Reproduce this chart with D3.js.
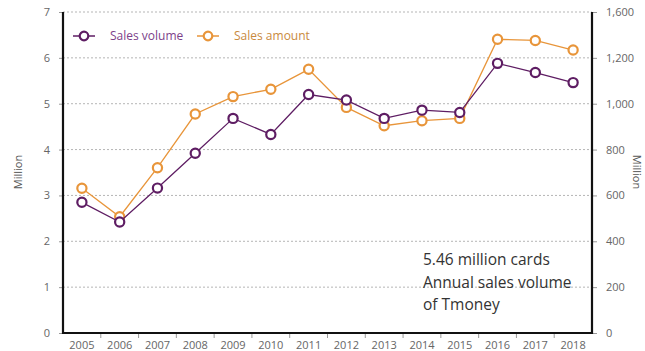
<!DOCTYPE html>
<html>
  <head>
    <meta charset="utf-8" />
    <script src="https://d3js.org/d3.v7.min.js"></script>
    <style>
      body { margin: 0; background: #fff; }
      svg { display: block; }
    </style>
  </head>
  <body>
    <svg></svg>
    <script>
      // data
      var years = ["2005","2006","2007","2008","2009","2010","2011","2012","2013","2014","2015","2016","2017","2018"];
      var salesVolume = [2.85, 2.42, 3.16, 3.92, 4.68, 4.33, 5.2, 5.08, 4.68, 4.86, 4.81, 5.88, 5.68, 5.46];
      var salesAmount = [631, 507, 721, 955, 1031, 1063, 1150, 984, 904, 926, 936, 1281, 1276, 1234];
      var leftTicks = [0, 1, 2, 3, 4, 5, 6, 7];
      var rightTicks = [0, 200, 400, 600, 800, 1000, 1200, 1400];
      var rightTickLabels = ["0", "200", "400", "600", "800", "1,000", "1,200", "1,600"];
      var note = ["5.46 million cards", "Annual sales volume", "of Tmoney"];

      var purple = "#5e1d63";
      var orange = "#e8953a";
      var font = "'Open Sans', sans-serif";

      var svg = d3.select("svg").attr("width", 645).attr("height", 351);

      var plotLeft = 63, plotRight = 592, plotTop = 12, plotBottom = 333;

      var x = d3.scaleBand().domain(years).range([plotLeft, plotRight]);
      var y = d3.scaleLinear().domain([0, 7]).range([plotBottom, plotTop]);
      var y2 = d3.scaleLinear().domain([0, 1400]).range([plotBottom, plotTop]);

      // gridlines
      svg.append("g")
        .selectAll("line")
        .data(leftTicks.slice(1))
        .enter()
        .append("line")
        .attr("x1", plotLeft)
        .attr("x2", plotRight)
        .attr("y1", function (d) { return y(d); })
        .attr("y2", function (d) { return y(d); })
        .attr("stroke", "#b5b5b5")
        .attr("stroke-width", 1)
        .attr("stroke-dasharray", "2,2");

      // left axis
      var gl = svg.append("g")
        .attr("transform", "translate(" + plotLeft + ",0)")
        .call(d3.axisLeft(y).tickValues(leftTicks).tickFormat(d3.format("d")).tickSize(4).tickPadding(9));
      gl.select(".domain").remove();
      gl.selectAll("line").attr("stroke", "#999");
      gl.selectAll("text").attr("fill", "#666").attr("font-size", 11).attr("font-family", font);

      // right axis
      var gr = svg.append("g")
        .attr("transform", "translate(" + plotRight + ",0)")
        .call(d3.axisRight(y2).tickValues(rightTicks).tickSize(5).tickPadding(9)
          .tickFormat(function (d, i) { return rightTickLabels[i]; }));
      gr.select(".domain").remove();
      gr.selectAll("line").attr("stroke", "#999");
      gr.selectAll("text").attr("fill", "#666").attr("font-size", 11).attr("font-family", font);

      // bottom axis
      var gb = svg.append("g")
        .attr("transform", "translate(0," + plotBottom + ")")
        .call(d3.axisBottom(x).tickSize(0).tickPadding(8));
      gb.select(".domain").remove();
      gb.selectAll("text").attr("fill", "#666").attr("font-size", 11).attr("font-family", font);
      gb.selectAll(".sep")
        .data(years.slice(1))
        .enter()
        .append("line")
        .attr("class", "sep")
        .attr("x1", function (d) { return x(d); })
        .attr("x2", function (d) { return x(d); })
        .attr("y1", 1)
        .attr("y2", 5)
        .attr("stroke", "#999");

      // frame lines
      svg.append("path")
        .attr("d", "M" + plotLeft + "," + plotTop + "V" + plotBottom + "H" + plotRight + "V" + plotTop)
        .attr("fill", "none")
        .attr("stroke", "#111")
        .attr("stroke-width", 2.2);

      // axis titles
      svg.append("text")
        .attr("transform", "translate(22,172) rotate(-90)")
        .attr("text-anchor", "middle")
        .attr("font-size", 11)
        .attr("font-family", font)
        .attr("fill", "#555")
        .text("Million");
      svg.append("text")
        .attr("transform", "translate(633,172) rotate(90)")
        .attr("text-anchor", "middle")
        .attr("font-size", 11)
        .attr("font-family", font)
        .attr("fill", "#555")
        .text("Million");

      function cx(d, i) { return x(years[i]) + x.bandwidth() / 2; }

      function drawSeries(values, scale, color) {
        var line = d3.line()
          .x(function (d, i) { return cx(d, i); })
          .y(function (d) { return scale(d); });
        svg.append("path")
          .datum(values)
          .attr("d", line)
          .attr("fill", "none")
          .attr("stroke", color)
          .attr("stroke-width", 1.3);
        svg.append("g")
          .selectAll("circle")
          .data(values)
          .enter()
          .append("circle")
          .attr("cx", cx)
          .attr("cy", function (d) { return scale(d); })
          .attr("r", 4.6)
          .attr("fill", "#fff")
          .attr("stroke", color)
          .attr("stroke-width", 2.2);
      }

      drawSeries(salesAmount, y2, orange);
      drawSeries(salesVolume, y, purple);

      // legend
      var legend = [
        { label: "Sales volume", color: purple, text: "#7d3f8a", x: 73 },
        { label: "Sales amount", color: orange, text: "#c98a3e", x: 197 }
      ];
      var lg = svg.append("g").selectAll("g").data(legend).enter().append("g")
        .attr("transform", function (d) { return "translate(" + d.x + ",36)"; });
      lg.append("line").attr("x1", 0).attr("x2", 22).attr("stroke", function (d) { return d.color; }).attr("stroke-width", 1.5);
      lg.append("circle").attr("cx", 11).attr("r", 4.3).attr("fill", "#fff")
        .attr("stroke", function (d) { return d.color; }).attr("stroke-width", 2.2);
      lg.append("text").attr("x", 37).attr("y", 4)
        .attr("font-size", 12).attr("font-family", font)
        .attr("fill", function (d) { return d.text; })
        .text(function (d) { return d.label; });

      // annotation
      svg.append("g")
        .selectAll("text")
        .data(note)
        .enter()
        .append("text")
        .attr("x", 423)
        .attr("y", function (d, i) { return 265 + i * 22.5; })
        .attr("font-size", 15.5)
        .attr("font-family", font)
        .attr("fill", "#333")
        .text(function (d) { return d; });
    </script>
  </body>
</html>
